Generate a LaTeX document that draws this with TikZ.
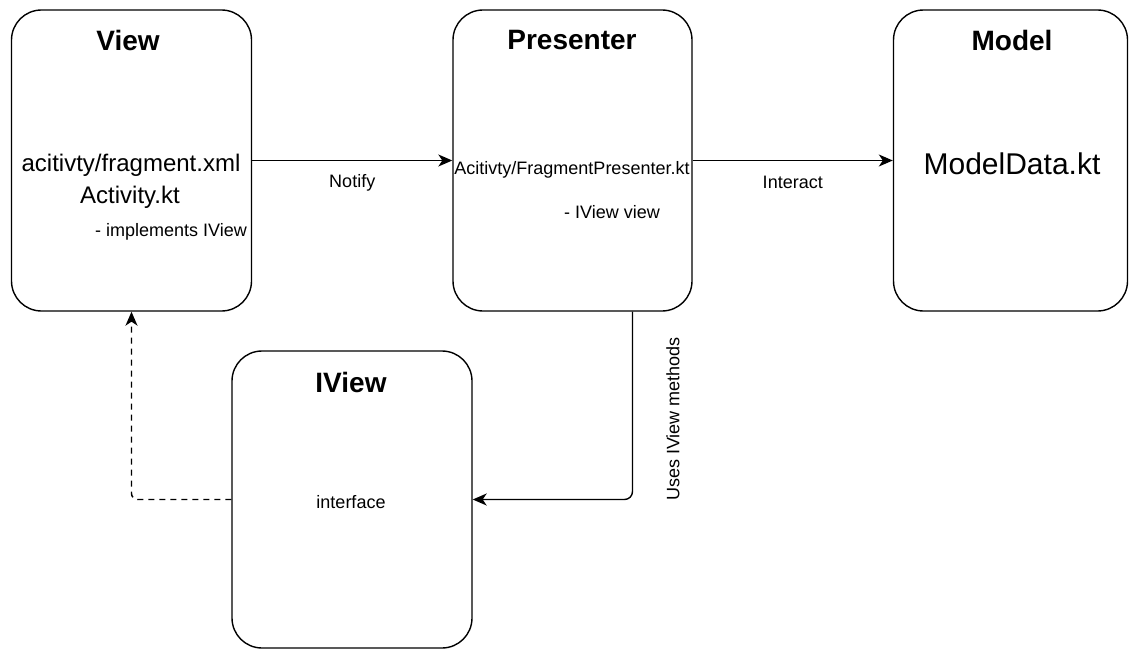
\documentclass[tikz,border=0pt]{standalone}
\usepackage{fontspec}
\setmainfont{Liberation Sans}
\usetikzlibrary{arrows.meta}
\begin{document}
\begin{tikzpicture}[x=1pt,y=-1pt,
  box/.style={draw, line width=1.4pt, rounded corners=30pt, minimum height=301pt, inner sep=0pt},
  ttl/.style={font=\fontsize{28}{32}\selectfont\bfseries, inner sep=0pt},
  txt/.style={font=\fontsize{24}{28}\selectfont, inner sep=0pt},
  sml/.style={font=\fontsize{18}{21}\selectfont, inner sep=0pt},
  big/.style={font=\fontsize{30}{34}\selectfont, inner sep=0pt},
  conn/.style={line width=1.4pt, -{Stealth[length=14pt,width=12pt,inset=4pt]}},
]
\useasboundingbox (0,0) rectangle (1129,650);
% boxes
\node[box, minimum width=240pt] (view) at (131.5,160.5) {};
\node[box, minimum width=239pt] (pres) at (572.5,160.5) {};
\node[box, minimum width=234pt] (model) at (1010.5,160.5) {};
\node[box, minimum width=240pt, minimum height=297pt] (iview) at (352,499.5) {};
% texts
\node[ttl] (viewT) at (128,40) {View};
\node[txt] (viewA) at (131,165) {acitivty/fragment.xml};
\node[txt] (viewB) at (130,197) {Activity.kt};
\node[sml] (viewC) at (171,232) {- implements IView};
\node[ttl] (presT) at (572,40) {Presenter};
\node[sml] (presA) at (572,170) {Acitivty/FragmentPresenter.kt};
\node[sml] (presB) at (612,212) {- IView view};
\node[ttl] (modelT) at (1012,40) {Model};
\node[big] (modelA) at (1012,164) {ModelData.kt};
\node[ttl] (iviewT) at (351,382) {IView};
\node[sml] (iviewA) at (351,502) {interface};
% connectors
\draw[conn] (view.east) -- (pres.west) node[sml, midway, yshift=-22pt] (notify) {Notify};
\draw[conn] (pres.east) -- (model.west) node[sml, midway, yshift=-22pt] (interact) {Interact};
\draw[conn, rounded corners=8pt] ([xshift=60pt]pres.south) |- (iview.east);
\node[sml, rotate=90] (uses) at (673,419) {Uses IView methods};
\draw[conn, rounded corners=6pt, dash pattern=on 6pt off 5pt] (iview.west) -| (view.south);
\end{tikzpicture}
\end{document}
